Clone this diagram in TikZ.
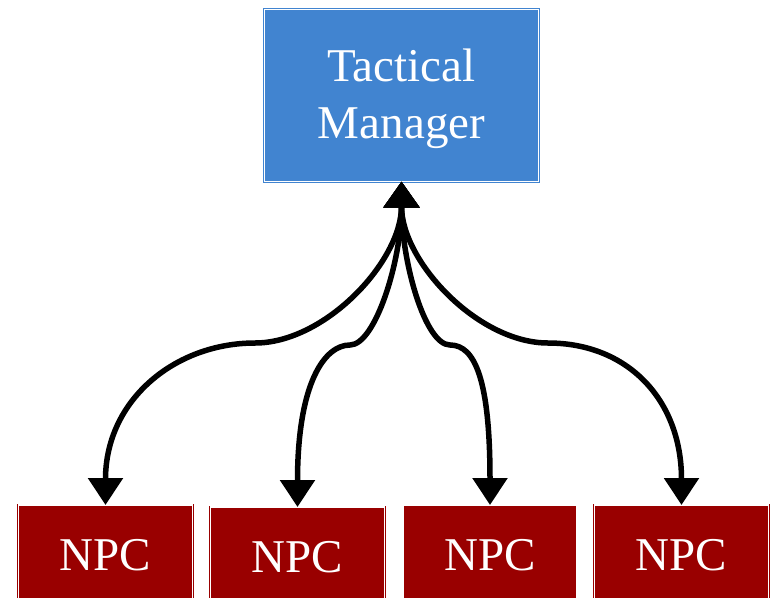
\documentclass[tikz,border=0pt]{standalone}
\usepackage{fontspec}
\setmainfont{Liberation Serif}
\usetikzlibrary{arrows.meta}
\definecolor{tmblue}{RGB}{65,132,208}
\definecolor{npcred}{RGB}{153,0,0}
\begin{document}
\begin{tikzpicture}[x=1pt,y=-1pt,
  box/.style={rectangle, inner sep=0pt, outer sep=0pt, text=white,
    line width=0.8pt, double=white, double distance=1.2pt},
  tmbox/.style={box, draw=tmblue, fill=tmblue, minimum width=274pt, minimum height=172pt},
  tmtext/.style={text=white, align=center, inner sep=0pt, font=\fontsize{47}{57}\selectfont},
  npcbox/.style={box, draw=npcred, fill=npcred, minimum width=174pt, minimum height=100pt,
    font=\fontsize{47}{57}\selectfont},
  conn/.style={line width=5.5pt, {Triangle[width=35pt,length=26pt]}-{Triangle[width=34pt,length=27pt]}}]
\useasboundingbox (0,0) rectangle (773,597);
\clip (0,0) rectangle (773,597);
\node[tmbox] (tm) at (401.5,95.5) {};
\node[tmtext] (tmt) at (401.5,99) {Tactical\\Manager};
\node[npcbox] (n1) at (105.5,555) {NPC};
\node[npcbox] (n2) at (297.5,557) {NPC};
\node[npcbox] (n3) at (490,555) {NPC};
\node[npcbox] (n4) at (681.5,555) {NPC};
\coordinate (c1) at (255,343);
\coordinate (c2) at (350,345);
\coordinate (c3) at (450,345);
\coordinate (c4) at (548,343);
\draw[conn] (tm.south) .. controls +(0,80) and +(70,0) .. (c1) .. controls +(-80,0) and +(0,-105) .. (n1.north);
\draw[conn] (tm.south) .. controls +(0,80) and +(25,0) .. (c2) .. controls +(-25,0) and +(0,-125) .. (n2.north);
\draw[conn] (tm.south) .. controls +(0,80) and +(-25,0) .. (c3) .. controls +(25,0) and +(0,-125) .. (n3.north);
\draw[conn] (tm.south) .. controls +(0,80) and +(-70,0) .. (c4) .. controls +(80,0) and +(0,-105) .. (n4.north);
\end{tikzpicture}
\end{document}
